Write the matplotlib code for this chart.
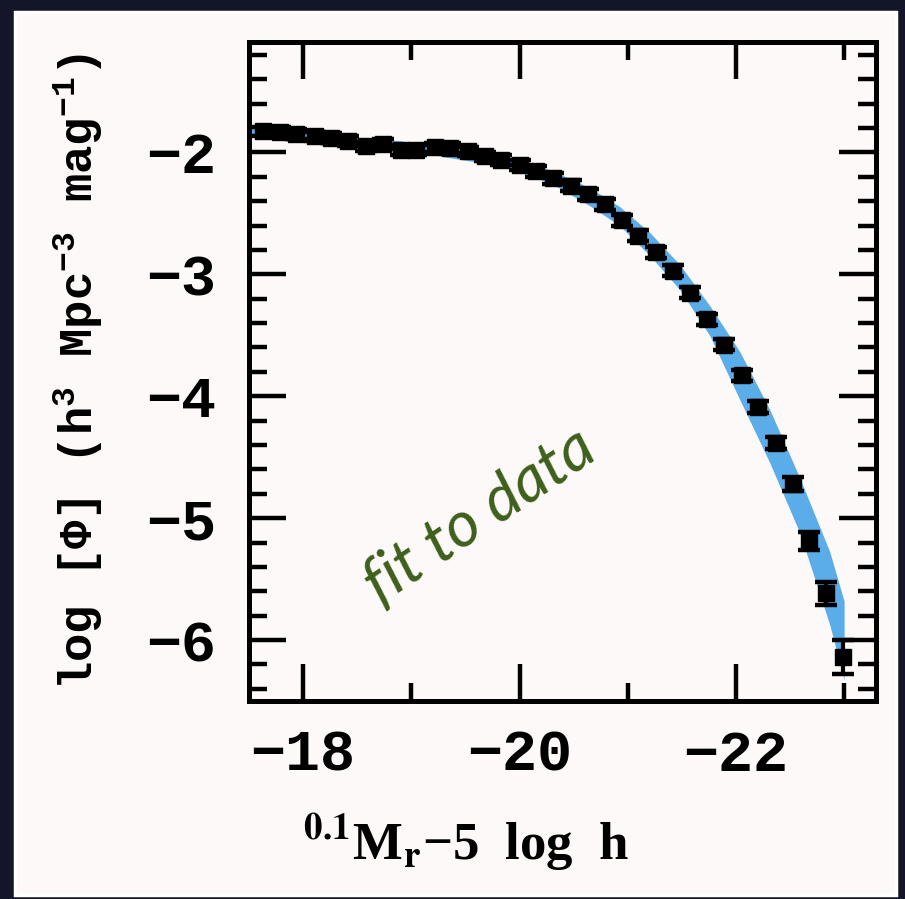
import matplotlib
matplotlib.use("Agg")
import matplotlib.pyplot as plt
from matplotlib.patches import Rectangle
from matplotlib.ticker import MultipleLocator
import numpy as np

# ---- data ----
mag = [-17.630, -17.785, -17.938, -18.108, -18.261, -18.416, -18.585, -18.739,
       -18.908, -19.047, -19.217, -19.355, -19.524, -19.679, -19.832, -20.002,
       -20.155, -20.312, -20.473, -20.630, -20.790, -20.944, -21.097, -21.258,
       -21.421, -21.575, -21.729, -21.889, -22.053, -22.206, -22.367, -22.524,
       -22.677, -22.831, -22.991]
logphi = [-1.828, -1.833, -1.849, -1.869, -1.882, -1.904, -1.951, -1.931,
          -1.978, -1.978, -1.959, -1.964, -1.992, -2.033, -2.060, -2.101,
          -2.156, -2.210, -2.273, -2.342, -2.424, -2.558, -2.684, -2.818,
          -2.971, -3.149, -3.368, -3.576, -3.828, -4.085, -4.386, -4.720,
          -5.188, -5.617, -6.138]
logphi_err = [0.04] * 16 + [0.045] * 13 + [0.05, 0.05, 0.057, 0.075, 0.095, 0.14]

band_mag = [-17.50, -17.972, -18.434, -18.896, -19.358, -19.820, -20.282, -20.651,
            -20.928, -21.206, -21.483, -21.760, -22.037, -22.314, -22.591, -22.868,
            -23.00]
band_hi = [-1.797, -1.830, -1.871, -1.904, -1.970, -2.027, -2.142, -2.290,
           -2.446, -2.659, -2.922, -3.259, -3.636, -4.112, -4.671, -5.278, -5.681]
band_lo = [-1.863, -1.888, -1.929, -1.970, -2.044, -2.109, -2.249, -2.438,
           -2.602, -2.848, -3.127, -3.505, -4.030, -4.548, -5.122, -5.877, -6.328]

xticks_major = [-18, -20, -22]
yticks_major = [-6, -5, -4, -3, -2]
annotation = "fit to data"

# ---- style ----
plt.rcParams['font.family'] = ['Liberation Mono', 'DejaVu Sans Mono']
plt.rcParams['font.weight'] = 'bold'
plt.rcParams['mathtext.fontset'] = 'custom'
plt.rcParams['mathtext.rm'] = 'Liberation Mono:bold'
plt.rcParams['mathtext.it'] = 'Liberation Mono:bold'
plt.rcParams['mathtext.bf'] = 'Liberation Mono:bold'

W, H = 905, 899
fig = plt.figure(figsize=(W / 100, H / 100), dpi=100)
fig.patch.set_facecolor('#131528')

paper = Rectangle((15 / W, 1 - 895 / H), 881 / W, 883 / H, transform=fig.transFigure,
                  facecolor='#fdf9f8', edgecolor='white', linewidth=2.5, zorder=-10)
fig.patches.append(paper)

ax_left, ax_right, ax_top, ax_bottom = 249, 875.5, 41.5, 701
ax = fig.add_axes([ax_left / W, 1 - ax_bottom / H, (ax_right - ax_left) / W,
                   (ax_bottom - ax_top) / H])
ax.set_zorder(5)
ax.set_facecolor('#fdf9f8')

ax.fill_between(band_mag, band_lo, band_hi, color='#5badea', linewidth=0, zorder=2)
ax.errorbar(mag, logphi, yerr=logphi_err, fmt='s', color='black', markersize=12,
            elinewidth=3, capsize=8, capthick=3.2, zorder=3)

ax.set_xlim(-17.5, -23.29)
ax.set_ylim(-6.5, -1.09)

ax.xaxis.set_major_locator(plt.FixedLocator(xticks_major))
ax.xaxis.set_minor_locator(MultipleLocator(1))
ax.yaxis.set_major_locator(plt.FixedLocator(yticks_major))
ax.yaxis.set_minor_locator(MultipleLocator(0.2))

for s in ax.spines.values():
    s.set_linewidth(3.6)
ax.tick_params(which='both', direction='in', top=True, right=True, width=3.2)
ax.tick_params(which='major', length=26.5)
ax.tick_params(which='minor', length=13)
ax.tick_params(axis='x', which='major', labelsize=42, pad=20)
ax.tick_params(axis='y', which='major', labelsize=42, pad=24)
for lab in ax.get_xticklabels() + ax.get_yticklabels():
    lab.set_fontweight('bold')

ax.set_ylabel('log [Φ] (h$^{3}$ Mpc$^{-3}$ mag$^{-1}$)', fontsize=34, fontweight='bold')
ax.yaxis.set_label_coords((105 - ax_left) / (ax_right - ax_left), 0.5)

xl = ax.set_xlabel('$^{\\mathbf{0.1}}$M$_{\\mathbf{r}}$\u22125  log  h', fontsize=38,
                   fontweight='bold', family=['Liberation Serif', 'DejaVu Serif'])
xl.set_math_fontfamily('stix')
ax.xaxis.set_label_coords((466 - ax_left) / (ax_right - ax_left),
                          (ax_bottom - 812) / (ax_bottom - ax_top))

ax.text((480 - ax_left) / (ax_right - ax_left), (ax_bottom - 516) / (ax_bottom - ax_top),
        annotation, transform=ax.transAxes, rotation=34, ha='center', va='center',
        fontsize=46, color='#3d5f1b', family=['Lato', 'DejaVu Sans'],
        fontstyle='italic', fontweight='normal', zorder=4)

fig.savefig('out.png', dpi=100, facecolor=fig.get_facecolor())
